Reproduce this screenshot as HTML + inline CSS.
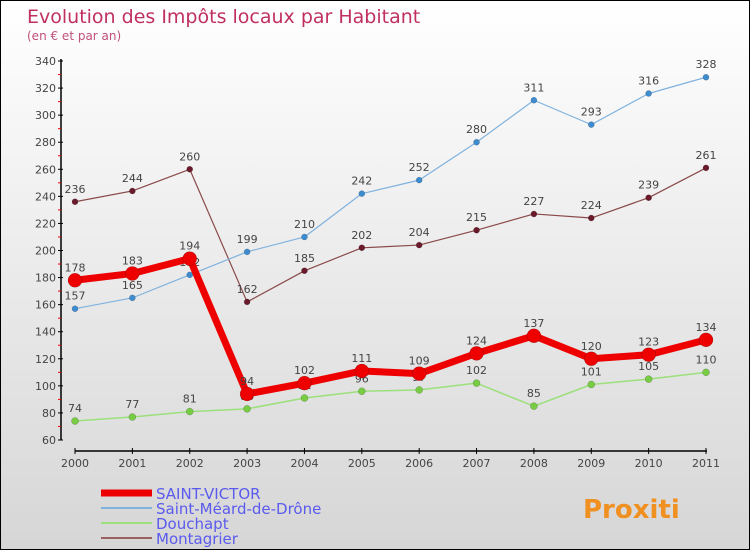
<!DOCTYPE html>
<html><head><meta charset="utf-8"><style>
body{margin:0;}
#c{position:relative;width:748px;height:548px;border:1px solid #000;background:linear-gradient(#fff,#d6d6d6);font-family:"DejaVu Sans","Liberation Sans",sans-serif;overflow:hidden}
</style></head><body>
<div id="c">
<svg id="s" width="748" height="548"></svg>
</div>
<script>
const years=[2000,2001,2002,2003,2004,2005,2006,2007,2008,2009,2010,2011];
const saintVictor=[178,183,194,94,102,111,109,124,137,120,123,134];
const saintMeard=[157,165,182,199,210,242,252,280,311,293,316,328];
const douchapt=[74,77,81,83,91,96,97,102,85,101,105,110];
const montagrier=[236,244,260,162,185,202,204,215,227,224,239,261];
const yTicks=[60,80,100,120,140,160,180,200,220,240,260,280,300,320,340];
const NS='http://www.w3.org/2000/svg';
const s=document.getElementById('s');
function X(i){return 74+i*(705-74)/11;}
function Y(v){return 439-(v-60)*(379/280);}
function mk(t,a,p){const e=document.createElementNS(NS,t);for(const k in a)e.setAttribute(k,a[k]);(p||s).appendChild(e);return e;}
function txt(x,y,str,a){const e=mk('text',Object.assign({x:x,y:y},a));e.textContent=str;return e;}
const t1=txt(26,22,'Evolution des Impôts locaux par Habitant',{fill:'#c0305f','font-size':19});

const t2=txt(26,39,'(en € et par an)',{fill:'#c0507a','font-size':12});

// axes
const ax=mk('line',{x1:60,y1:58,x2:60,y2:439,stroke:'#000','stroke-width':1.5});

const axx=mk('line',{x1:74,y1:450,x2:706,y2:450,stroke:'#000','stroke-width':1.5});

yTicks.forEach((v,i)=>{mk('line',{x1:57,y1:Y(v),x2:62,y2:Y(v),stroke:'#000'});
 if(i<yTicks.length-1)mk('line',{x1:57,y1:Y(v+10),x2:60,y2:Y(v+10),stroke:'#e00'});
 const l=txt(55,Y(v)+4,v,{fill:'#444','font-size':11,'text-anchor':'end'});
 });
years.forEach((y,i)=>{mk('line',{x1:X(i),y1:447,x2:X(i),y2:453,stroke:'#000'});
 const l=txt(X(i),466,y,{fill:'#444','font-size':11,'text-anchor':'middle'});
 });
function series(data,color,dot,w,r,name){
 const g=mk('g',{});
 mk('polyline',{points:data.map((v,i)=>X(i)+','+Y(v)).join(' '),fill:'none',stroke:color,'stroke-width':w,'stroke-linejoin':'round'},g);
 data.forEach((v,i)=>{const c=mk('circle',{cx:X(i),cy:Y(v),r:r,fill:dot,stroke:'rgba(0,0,0,0.3)','stroke-width':0.5},g);
  
  const l=txt(X(i),Y(v)-9,v,{fill:'#444','font-size':11,'text-anchor':'middle'},g);});
}
series(douchapt,'#9be07a','#77cc44',1.5,3.5,'douchapt');
series(montagrier,'#8a4a4a','#6a1a2a',1.2,3,'montagrier');
series(saintMeard,'#7fb2de','#3e8cd0',1.2,3,'saint-meard');
series(saintVictor,'#ee0000','#ee0000',7,7,'saint-victor');
// legend
const leg=[['SAINT-VICTOR','#ee0000',7],['Saint-Méard-de-Drône','#7fb2de',2],['Douchapt','#9be07a',2],['Montagrier','#9a6060',2]];
leg.forEach((e,i)=>{const y=492+i*15;const g=mk('g',{});
 mk('line',{x1:100,y1:y,x2:151,y2:y,stroke:e[1],'stroke-width':e[2]},g);
 txt(155,y+6,e[0],{fill:'#5a5aee','font-size':15},g);});
const lg=txt(582,517,'Proxiti',{fill:'#f09020','font-size':26,'font-weight':'bold'});

</script>
</body></html>
